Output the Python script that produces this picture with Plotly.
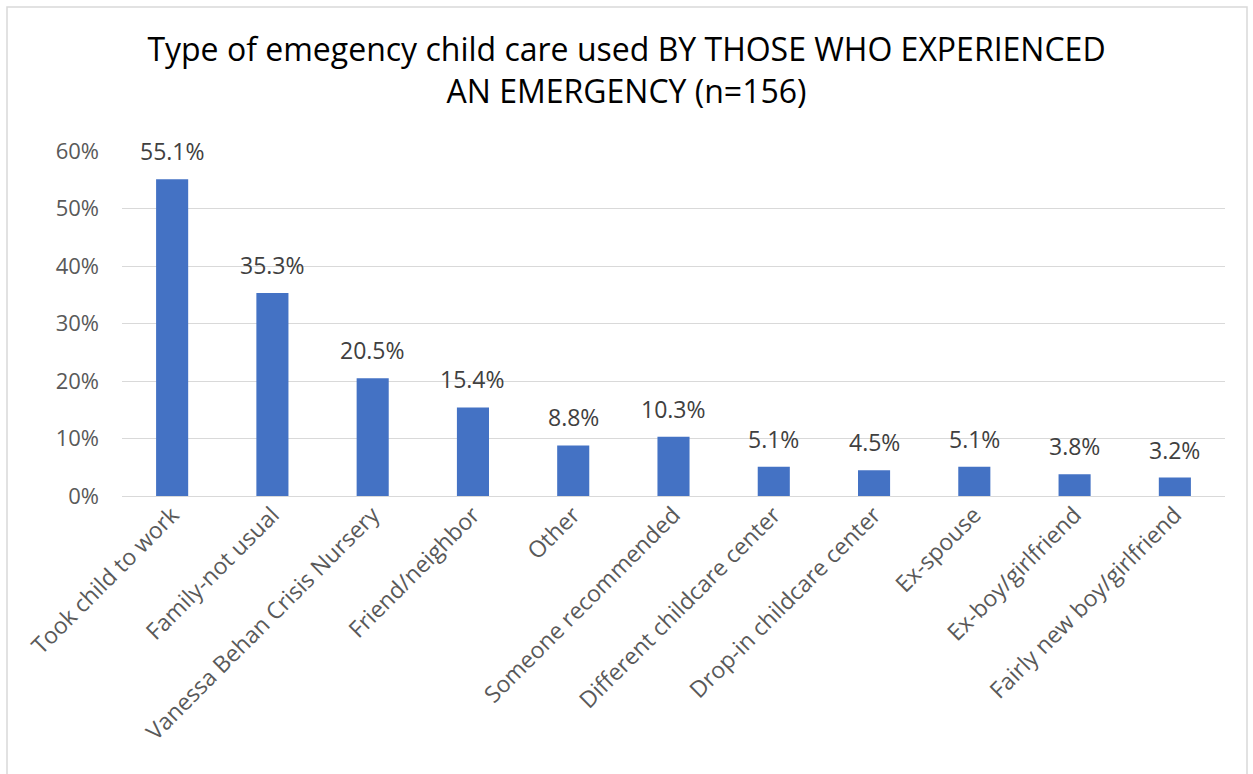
import plotly.graph_objects as go

categories = ["Took child to work", "Family-not usual", "Vanessa Behan Crisis Nursery",
              "Friend/neighbor", "Other", "Someone recommended", "Different childcare center",
              "Drop-in childcare center", "Ex-spouse", "Ex-boy/girlfriend", "Fairly new boy/girlfriend"]
values = [55.1, 35.3, 20.5, 15.4, 8.8, 10.3, 5.1, 4.5, 5.1, 3.8, 3.2]
labels = [f"{v:.1f}%" for v in values]
y_ticks = [0, 10, 20, 30, 40, 50, 60]
y_ticktext = [f"{t}%" for t in y_ticks]

FONT = "Open Sans"

fig = go.Figure(go.Bar(
    x=categories, y=values,
    marker=dict(color="#4472C4", line=dict(width=0)),
    cliponaxis=False, hoverinfo="x+y",
))

for c, v, t in zip(categories, values, labels):
    fig.add_annotation(x=c, y=v, text=t, showarrow=False, yanchor="bottom", yshift=10,
                       font=dict(family=FONT, size=23, color="#404040"))

W, H = 1253, 774
L, R, T, B = 122, 28, 151, 278
pw, ph = W - L - R, H - T - B

def px(x):
    return (x - L) / pw

def py(y):
    return (H - B - y) / ph

fig.update_layout(
    width=W, height=H,
    margin=dict(l=L, r=R, t=T, b=B),
    paper_bgcolor="white", plot_bgcolor="white",
    title=dict(text="Type of emegency child care used BY THOSE WHO EXPERIENCED<br>AN EMERGENCY (n=156)",
               x=0.5, xanchor="center", y=1 - 61 / H, yanchor="top",
               font=dict(family=FONT, size=32, color="#000000")),
    bargap=0.68,
    showlegend=False,
    xaxis=dict(tickangle=-45, tickfont=dict(family=FONT, size=23, color="#595959"),
               showgrid=False, showline=False, ticks=""),
    yaxis=dict(range=[0, 60], tickvals=y_ticks, ticktext=y_ticktext,
               tickfont=dict(family=FONT, size=22, color="#595959"),
               showgrid=True, gridcolor="#D9D9D9", gridwidth=1, zeroline=True,
               zerolinecolor="#D9D9D9", zerolinewidth=1, ticks="", ticklabelstandoff=22),
    shapes=[dict(type="rect", xref="paper", yref="paper",
                 x0=px(7), x1=px(1247), y0=py(790), y1=py(7),
                 line=dict(color="#D9D9D9", width=1.5), fillcolor="rgba(0,0,0,0)", layer="below")],
)

fig.write_html("out.html")
